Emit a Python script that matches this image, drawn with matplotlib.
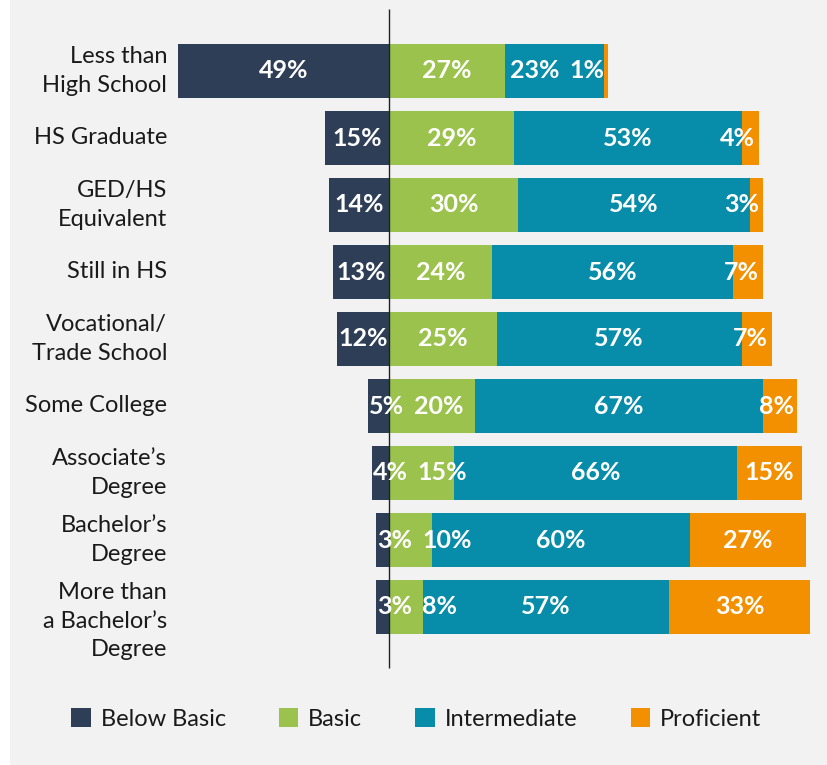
import matplotlib
matplotlib.use("Agg")
import matplotlib.pyplot as plt
from matplotlib.patches import Patch

# ---------------- data ----------------
categories = [
    "Less than\nHigh School",
    "HS Graduate",
    "GED/HS\nEquivalent",
    "Still in HS",
    "Vocational/\nTrade School",
    "Some College",
    "Associate\u2019s\nDegree",
    "Bachelor\u2019s\nDegree",
    "More than\na Bachelor\u2019s\nDegree",
]
below_basic = [49, 15, 14, 13, 12, 5, 4, 3, 3]
basic = [27, 29, 30, 24, 25, 20, 15, 10, 8]
intermediate = [23, 53, 54, 56, 57, 67, 66, 60, 57]
proficient = [1, 4, 3, 7, 7, 8, 15, 27, 33]
series_names = ["Below Basic", "Basic", "Intermediate", "Proficient"]
colors = ["#2d3e56", "#9bc24c", "#078ca9", "#f29000"]

# ---------------- layout ----------------
W, H = 827, 765
FONT = "Lato"
FS = 17
FS_VAL = 18
TXT = "#1a1a1a"
BG = "#f2f2f2"
zero_px = 389
px_per_pct = 4.3
row0_px = 71
row_step = 67
line_px = 28.5

plt.rcParams["font.family"] = [FONT, "DejaVu Sans"]
fig = plt.figure(figsize=(W / 100, H / 100), dpi=100, facecolor="white")
ax = fig.add_axes([10 / W, 0, (W - 10) / W, 1])
ax.set_facecolor(BG)
ax.set_xlim((10 - zero_px) / px_per_pct, (W - zero_px) / px_per_pct)
ax.set_ylim((H - row0_px) / row_step, -row0_px / row_step)
for s in ax.spines.values():
    s.set_visible(False)
ax.set_xticks([])
ax.set_yticks([])

n = len(categories)
ys = list(range(n))
bar_h = 54 / row_step

# negative side
ax.barh(ys, [-v for v in below_basic], left=0, height=bar_h, color=colors[0], linewidth=0)
# positive stacked side
left = [0] * n
pos_series = [basic, intermediate, proficient]
for vals, c in zip(pos_series, colors[1:]):
    ax.barh(ys, vals, left=left, height=bar_h, color=c, linewidth=0)
    left = [l + v for l, v in zip(left, vals)]

# zero line
ax.vlines(0, (9 - row0_px) / row_step, (668 - row0_px) / row_step, color="#222222", lw=1.0, zorder=5)

# category labels (first two lines centred on the bar, extra lines hang below)
label_x = (167 - zero_px) / px_per_pct
for y, cat in zip(ys, categories):
    nl = cat.count("\n") + 1
    shift = max(nl - 2, 0) * line_px / 2 / row_step
    ax.text(label_x, y + shift, cat, ha="right", va="center", fontsize=FS, color=TXT,
            linespacing=1.45, family=[FONT, "DejaVu Sans"])

# value labels with simple collision avoidance
fig.canvas.draw()
r = fig.canvas.get_renderer()
ppu = ax.transData.transform((1, 0))[0] - ax.transData.transform((0, 0))[0]
gap = 10 / ppu
pad_l = 1 / ppu
pad_r = 4 / ppu
for i in range(n):
    segs = []
    segs.append((-below_basic[i], 0, below_basic[i]))
    cum = 0
    for vals in pos_series:
        segs.append((cum, cum + vals[i], vals[i]))
        cum += vals[i]
    texts, centers, widths = [], [], []
    for a, b, v in segs:
        t = ax.text((a + b) / 2, i, f"{v}%", ha="center", va="center", fontsize=FS_VAL,
                    fontweight="bold", color="white", zorder=6)
        texts.append(t)
        centers.append((a + b) / 2)
        widths.append(t.get_window_extent(r).width / ppu)
    bar_left, bar_right = segs[0][0], segs[-1][1]
    centers[0] = max(centers[0], bar_left + pad_l + widths[0] / 2)
    centers[-1] = min(centers[-1], bar_right - pad_r - widths[-1] / 2)
    for k in range(1, len(centers)):
        lo = centers[k - 1] + widths[k - 1] / 2 + gap + widths[k] / 2
        if centers[k] < lo:
            centers[k] = lo
    centers[-1] = min(centers[-1], bar_right - pad_r - widths[-1] / 2)
    for k in range(len(centers) - 2, -1, -1):
        hi = centers[k + 1] - widths[k + 1] / 2 - gap - widths[k] / 2
        if centers[k] > hi:
            centers[k] = hi
    for t, c in zip(texts, centers):
        t.set_x(c)

# legend
handles = [Patch(facecolor=c, edgecolor="none") for c in colors]
fig.legend(handles, series_names, loc="center left", bbox_to_anchor=(71 / W, 1 - 719 / H),
           ncol=4, frameon=False, fontsize=FS, handlelength=0.83, handleheight=0.83,
           handletextpad=0.42, columnspacing=2.25, borderpad=0, borderaxespad=0,
           labelcolor=TXT)

fig.savefig("out.png", dpi=100, facecolor="white")
